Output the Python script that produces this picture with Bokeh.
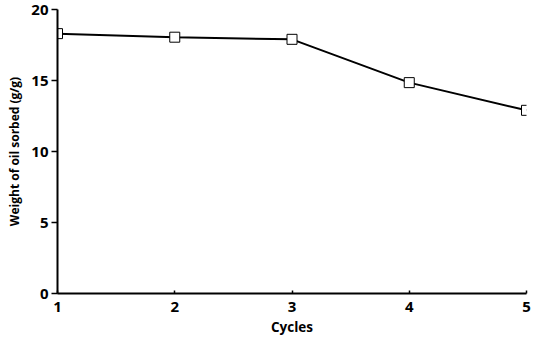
from bokeh.plotting import figure
from bokeh.models import Range1d, FixedTicker
from bokeh.embed import file_html
from bokeh.resources import INLINE

cycles = [1, 2, 3, 4, 5]
weight = [18.3, 18.05, 17.9, 14.85, 12.9]
x_ticks = [1, 2, 3, 4, 5]
y_ticks = [0, 5, 10, 15, 20]

FONT = "Open Sans"

p = figure(width=534, height=339, output_backend="svg", toolbar_location=None,
           x_range=Range1d(1, 5), y_range=Range1d(0, 20),
           min_border_left=57, min_border_right=8, min_border_top=9, min_border_bottom=46)
p.outline_line_color = None
p.grid.visible = False
p.background_fill_color = "white"
p.border_fill_color = "white"

p.line(cycles, weight, line_color="black", line_width=2)
p.scatter(cycles, weight, marker="square", size=10, fill_color="white",
          line_color="black", line_width=1)

p.xaxis.ticker = FixedTicker(ticks=x_ticks)
p.yaxis.ticker = FixedTicker(ticks=y_ticks)
p.xaxis.axis_label = "Cycles"
p.yaxis.axis_label = "Weight of oil sorbed (g/g)"

for ax in (p.xaxis, p.yaxis):
    ax.axis_line_color = "black"
    ax.axis_line_width = 2
    ax.major_tick_line_color = "black"
    ax.major_tick_line_width = 1.5
    ax.minor_tick_line_color = None
    ax.major_label_text_font = FONT
    ax.major_label_text_font_style = "bold"
    ax.major_label_text_font_size = "15px"
    ax.major_label_text_color = "black"
    ax.axis_label_text_font = FONT
    ax.axis_label_text_font_style = "bold"
    ax.axis_label_text_color = "black"

p.xaxis.axis_label_text_font_size = "13.5px"
p.yaxis.axis_label_text_font_size = "12px"

p.xaxis.major_tick_in = 3
p.xaxis.major_tick_out = 0
p.xaxis.major_label_standoff = 8
p.xaxis.axis_label_standoff = 3
p.yaxis.major_tick_in = 0
p.yaxis.major_tick_out = 6
p.yaxis.major_label_standoff = 3
p.yaxis.axis_label_standoff = 5

open("out.html", "w").write(file_html(p, INLINE))
